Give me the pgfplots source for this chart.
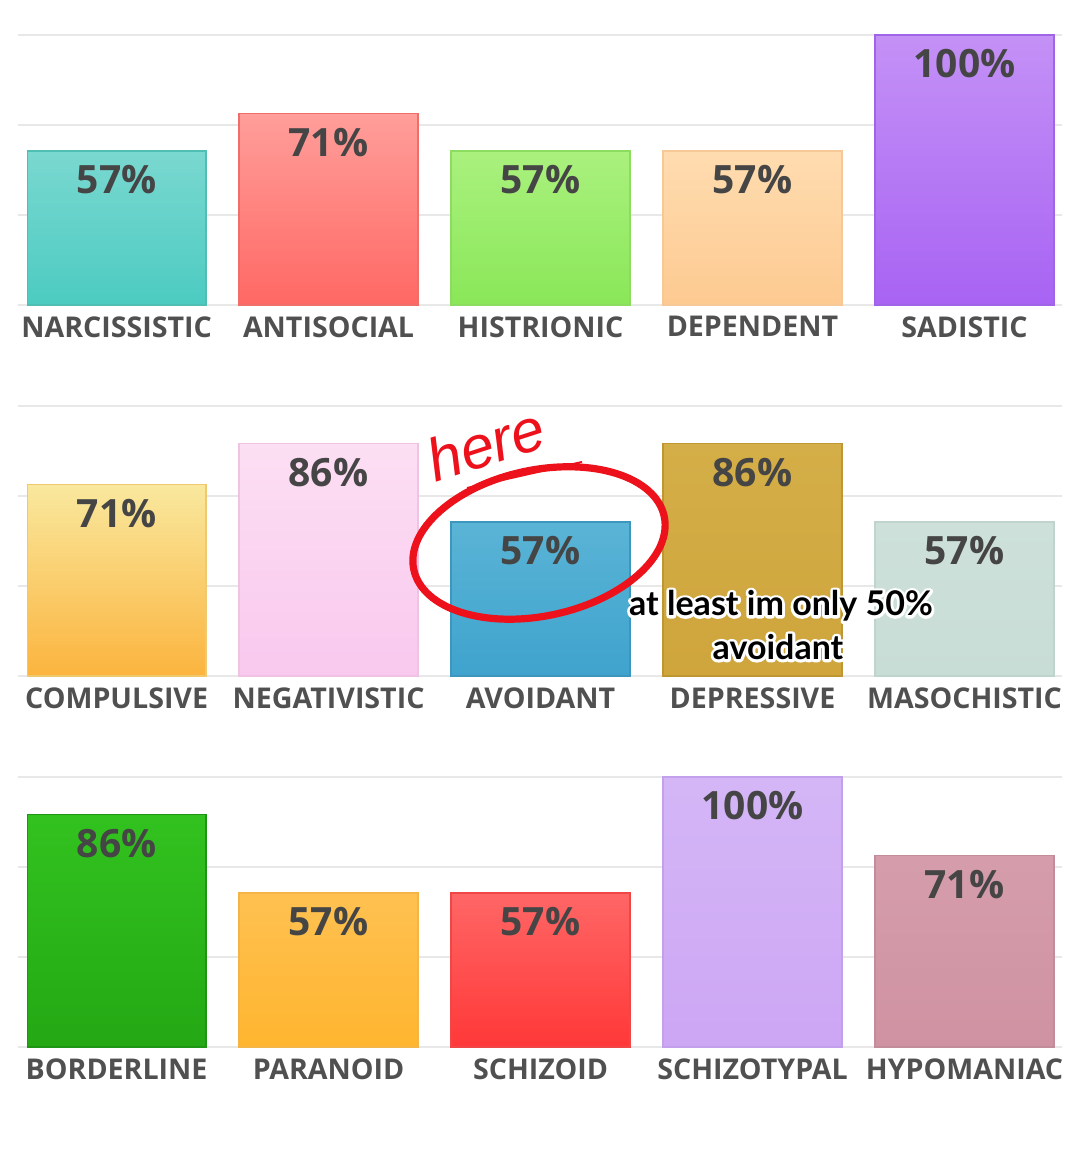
\documentclass[border=0pt]{standalone}
\usepackage{fontspec}
\setmainfont{Open Sans}
\newfontfamily\annot{Lato}
\newfontfamily\hand{Liberation Sans}
\usepackage{pgfplots}
\pgfplotsset{compat=1.18}
\definecolor{gridc}{HTML}{E8E8E8}
\definecolor{labc}{HTML}{505050}
\definecolor{valc}{HTML}{454545}
\definecolor{markred}{HTML}{EC111B}
\pgfplotsset{
 row/.style={width=522pt, height=135pt, scale only axis,
  xmin=-0.465, xmax=4.46, ymin=0, ymax=100,
  axis line style={draw=none}, major tick length=0pt,
  ytick={0,33.333,66.667,100}, yticklabels={}, ymajorgrids,
  grid style={line width=1pt, color=gridc},
  xtick={0,1,2,3,4},
  /pgf/number format/assume math mode=true,
  xticklabel style={font=\fontsize{14.3}{14.3}\selectfont\bfseries, text=labc, anchor=north, inner sep=0pt, yshift=-5.5pt},
  clip=false, point meta=y,
  nodes near coords={\pgfmathprintnumber[assume math mode=true]{\pgfplotspointmeta}\%},
  every node near coord/.append style={font=\fontsize{19.5}{19.5}\selectfont\bfseries, text=valc, inner sep=0pt, yshift=-7pt}},
 bb/.style={ybar, bar width=0.844, bar shift=0pt, line width=0.6pt, nodes near coords align={below}}
}
\newcommand{\outlined}[3]{%
 \node[text=white, font=\annot\fontsize{17}{17}\selectfont\bfseries] at (#1,#2) {\special{pdf:literal direct 1 Tr 2.8 w 1 J 1 j 1 1 1 RG}#3\special{pdf:literal direct 0 Tr}};
 \node[text=black, font=\annot\fontsize{17}{17}\selectfont\bfseries] at (#1,#2) {#3};}
\begin{document}
\begin{tikzpicture}
\fill[white] (0,0) rectangle (540pt,575pt);
\path[use as bounding box] (0,0) rectangle (540pt,575pt);
% Row 1
\begin{axis}[row, at={(9pt,422.5pt)}, anchor=south west,
  xticklabels={NARCISSISTIC,ANTISOCIAL,HISTRIONIC,DEPENDENT,SADISTIC}]
\addplot[bb, top color={rgb,255:red,122;green,216;blue,208}, bottom color={rgb,255:red,76;green,203;blue,193}, draw={rgb,255:red,80;green,190;blue,180}] coordinates {(0,57)};
\addplot[bb, top color={rgb,255:red,255;green,158;blue,154}, bottom color={rgb,255:red,255;green,104;blue,100}, draw={rgb,255:red,240;green,110;blue,105}] coordinates {(1,71)};
\addplot[bb, top color={rgb,255:red,170;green,241;blue,126}, bottom color={rgb,255:red,138;green,231;blue,88}, draw={rgb,255:red,140;green,220;blue,95}] coordinates {(2,57)};
\addplot[bb, top color={rgb,255:red,255;green,220;blue,176}, bottom color={rgb,255:red,253;green,202;blue,145}, draw={rgb,255:red,245;green,200;blue,150}] coordinates {(3,57)};
\addplot[bb, top color={rgb,255:red,196;green,145;blue,246}, bottom color={rgb,255:red,168;green,99;blue,243}, draw={rgb,255:red,160;green,100;blue,230}] coordinates {(4,100)};
\end{axis}
% Row 2
\begin{axis}[row, at={(9pt,237pt)}, anchor=south west,
  xticklabels={COMPULSIVE,NEGATIVISTIC,AVOIDANT,DEPRESSIVE,MASOCHISTIC}]
\addplot[bb, top color={rgb,255:red,249;green,232;blue,158}, bottom color={rgb,255:red,251;green,180;blue,62}, draw={rgb,255:red,240;green,200;blue,110}] coordinates {(0,71)};
\addplot[bb, top color={rgb,255:red,252;green,223;blue,243}, bottom color={rgb,255:red,249;green,200;blue,238}, draw={rgb,255:red,240;green,195;blue,228}] coordinates {(1,86)};
\addplot[bb, top color={rgb,255:red,90;green,180;blue,214}, bottom color={rgb,255:red,63;green,163;blue,205}, draw={rgb,255:red,60;green,150;blue,190}] coordinates {(2,57)};
\addplot[bb, top color={rgb,255:red,212;green,174;blue,72}, bottom color={rgb,255:red,207;green,165;blue,60}, draw={rgb,255:red,190;green,150;blue,50}] coordinates {(3,86)};
\addplot[bb, top color={rgb,255:red,205;green,225;blue,218}, bottom color={rgb,255:red,200;green,221;blue,214}, draw={rgb,255:red,190;green,212;blue,205}] coordinates {(4,57)};
\end{axis}
% Row 3
\begin{axis}[row, at={(9pt,51.5pt)}, anchor=south west,
  xticklabels={BORDERLINE,PARANOID,SCHIZOID,SCHIZOTYPAL,HYPOMANIAC}]
\addplot[bb, top color={rgb,255:red,50;green,194;blue,31}, bottom color={rgb,255:red,36;green,168;blue,20}, draw={rgb,255:red,30;green,150;blue,20}] coordinates {(0,86)};
\addplot[bb, top color={rgb,255:red,255;green,193;blue,81}, bottom color={rgb,255:red,255;green,181;blue,47}, draw={rgb,255:red,245;green,180;blue,70}] coordinates {(1,57)};
\addplot[bb, top color={rgb,255:red,255;green,102;blue,102}, bottom color={rgb,255:red,255;green,56;blue,56}, draw={rgb,255:red,240;green,70;blue,70}] coordinates {(2,57)};
\addplot[bb, top color={rgb,255:red,212;green,182;blue,246}, bottom color={rgb,255:red,205;green,166;blue,244}, draw={rgb,255:red,195;green,160;blue,235}] coordinates {(3,100)};
\addplot[bb, top color={rgb,255:red,213;green,157;blue,172}, bottom color={rgb,255:red,207;green,146;blue,162}, draw={rgb,255:red,195;green,140;blue,155}] coordinates {(4,71)};
\end{axis}
% hand-drawn annotation
\draw[markred, line width=3.6pt, rotate around={12:(269.5pt,303.5pt)}] (269.5pt,303.5pt) ellipse [x radius=64pt, y radius=36.5pt];
\draw[markred, line width=1pt] (233.5pt,331pt) -- (291pt,344pt);
\node[text=markred, rotate=18] at (243pt,353pt) {\hand\itshape\fontsize{30}{30}\selectfont here};
\outlined{390.5pt}{272pt}{at least im only 50\%}
\outlined{389pt}{251.5pt}{avoidant}
\end{tikzpicture}
\end{document}
